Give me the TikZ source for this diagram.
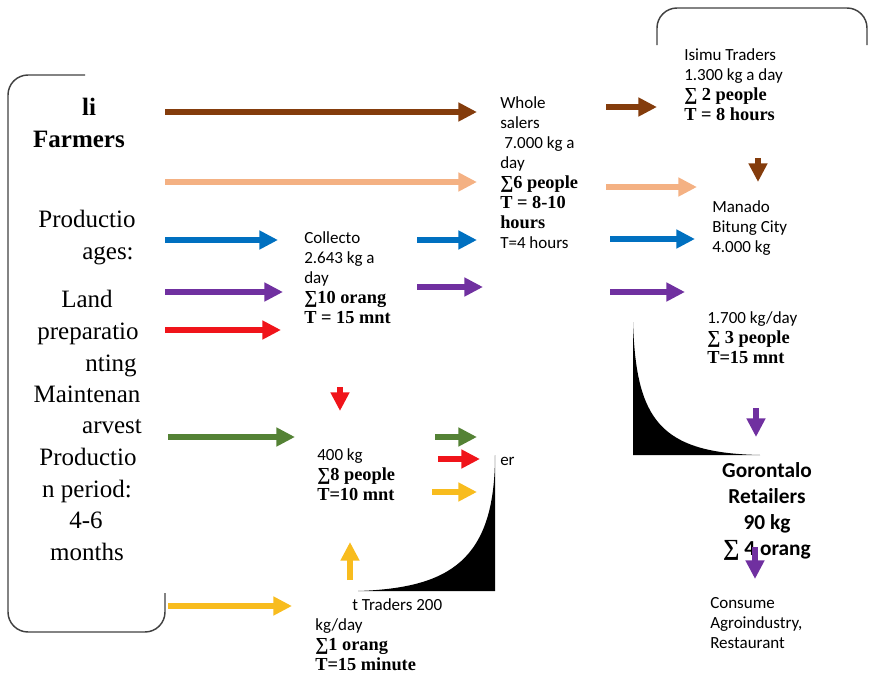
\documentclass[tikz,border=0pt]{standalone}
\usepackage{fontspec}
\setmainfont{Liberation Serif}
\newfontfamily\calibri{Carlito}
\newfontfamily\cambria[Scale=1.08]{Liberation Serif}
\usetikzlibrary{arrows.meta}

\definecolor{flowbrown}{HTML}{843C0C}
\definecolor{flowpeach}{HTML}{F4B183}
\definecolor{flowblue}{HTML}{0070C0}
\definecolor{flowpurple}{HTML}{7030A0}
\definecolor{flowred}{HTML}{F0141A}
\definecolor{flowgreen}{HTML}{548235}
\definecolor{flowyellow}{HTML}{F8BC1E}

\tikzset{
  flow/.style={line width=4.5pt, -{Triangle[length=14pt,width=13.5pt]}},
  boxline/.style={draw=black!75, line width=1.1pt, rounded corners=15pt},
  info/.style={font=\calibri\fontsize{12.75}{15}\selectfont, align=left, anchor=base west, inner sep=0pt},
  stage/.style={font=\fontsize{18.75}{23}\selectfont, anchor=base, inner sep=0pt},
}
\newcommand{\sumline}[1]{{\cambria\bfseries #1}}

\begin{document}
\begin{tikzpicture}[x=0.75pt, y=-0.75pt]
    \useasboundingbox (0,0) rectangle (869,675);

    % Frames
    \draw[boxline] (85,75) -- (8,75) -- (8,632) -- (165,632) -- (165,593);
    \draw[boxline] (657,45) -- (657,8) -- (867,8) -- (867,45);

    % Black corner shapes
    \fill (358,591) .. controls (450,588) and (495,560) .. (495,455) -- (495,591) -- cycle;
    \fill (633,322) .. controls (636,420) and (660,453) .. (760,455) -- (633,455) -- cycle;

    % Farmers column
    \node[stage, font=\bfseries\fontsize{18.75}{23}\selectfont] (chili) at (89,115) {li};
    \node[stage, font=\bfseries\fontsize{18.75}{23}\selectfont] (farmers) at (79,147) {Farmers};
    \foreach \cx/\by/\txt [count=\i] in {87/227/Productio, 108/259/ages:, 87/307/Land,
        88/339/preparatio, 111/371/nting, 87/402/Maintenan, 112/433/arvest,
        88/465/Productio, 87/497/n period:, 86/528/4-6, 87/560/months}
        \node[stage] (stage\i) at (\cx,\by) {\txt};

    % Actors (placed at the baseline of their last line)
    \node[info] (collector) at (304,323) {Collecto\\2.643 kg a\\day\\\sumline{∑10 orang}\\\sumline{T = 15 mnt}};
    \node[info] (village) at (317,500) {400 kg\\\sumline{∑8 people}\\\sumline{T=10 mnt}};
    \node[info] (retailend) at (500,465) {er};
    \node[info] (trader) at (352,610) {t Traders 200};
    \node[info] (traderinfo) at (315,670) {kg/day\\\sumline{∑1 orang}\\\sumline{T=15 minute}};
    \node[info] (whole) at (500,248) {Whole\\salers\\\hspace{3pt}7.000 kg a\\day\\\sumline{∑6 people}\\\sumline{T = 8-10}\\\sumline{hours}\\T=4 hours};
    \node[info] (isimu) at (684,120) {Isimu Traders\\1.300 kg a day\\\sumline{∑ 2 people}\\\sumline{T = 8 hours}};
    \node[info] (manado) at (712,252) {Manado\\Bitung City\\4.000 kg};
    \node[info] (local) at (707,363) {1.700 kg/day\\\sumline{∑ 3 people}\\\sumline{T=15 mnt}};
    \node[anchor=base, align=center, inner sep=0pt, font=\calibri\bfseries\fontsize{16}{19.5}\selectfont]
        (retailer) at (767,555) {Gorontalo\\Retailers\\90 kg\\{\cambria ∑} 4 orang};
    \node[info] (consumer) at (710,648) {Consume\\Agroindustry,\\Restaurant};

    % Arrow ends
    \coordinate (brA) at (165,112); \coordinate (brB) at (477,112);
    \coordinate (brC) at (606,107); \coordinate (brD) at (657,107);
    \coordinate (brE) at (758,158); \coordinate (brF) at (758,182);
    \coordinate (peA) at (165,182); \coordinate (peB) at (477,182);
    \coordinate (peC) at (606,187); \coordinate (peD) at (697,187);
    \coordinate (blA) at (165,240); \coordinate (blB) at (278,240);
    \coordinate (blC) at (417,240); \coordinate (blD) at (477,240);
    \coordinate (blE) at (610,239); \coordinate (blF) at (695,239);
    \coordinate (puA) at (165,292); \coordinate (puB) at (283,292);
    \coordinate (puC) at (417,287); \coordinate (puD) at (483,287);
    \coordinate (puE) at (610,292); \coordinate (puF) at (685,292);
    \coordinate (puG) at (756,408); \coordinate (puH) at (756,437);
    \coordinate (puI) at (755,547); \coordinate (puJ) at (755,579);
    \coordinate (reA) at (165,330); \coordinate (reB) at (281,330);
    \coordinate (reC) at (340,387); \coordinate (reD) at (340,411);
    \coordinate (reE) at (438,459); \coordinate (reF) at (480,459);
    \coordinate (grA) at (168,437); \coordinate (grB) at (295,437);
    \coordinate (grC) at (435,437); \coordinate (grD) at (477,437);
    \coordinate (yeA) at (168,606); \coordinate (yeB) at (292,606);
    \coordinate (yeC) at (350,580); \coordinate (yeD) at (350,542);
    \coordinate (yeE) at (432,492); \coordinate (yeF) at (477,492);

    % Flows
    \draw[flow, flowbrown] (brA) -- (brB);
    \draw[flow, flowbrown] (brC) -- (brD);
    \draw[flow, flowbrown] (brE) -- (brF);
    \draw[flow, flowpeach] (peA) -- (peB);
    \draw[flow, flowpeach] (peC) -- (peD);
    \draw[flow, flowblue] (blA) -- (blB);
    \draw[flow, flowblue] (blC) -- (blD);
    \draw[flow, flowblue] (blE) -- (blF);
    \draw[flow, flowpurple] (puA) -- (puB);
    \draw[flow, flowpurple] (puC) -- (puD);
    \draw[flow, flowpurple] (puE) -- (puF);
    \draw[flow, flowpurple] (puG) -- (puH);
    \draw[flow, flowpurple] (puI) -- (puJ);
    \draw[flow, flowred] (reA) -- (reB);
    \draw[flow, flowred] (reC) -- (reD);
    \draw[flow, flowred] (reE) -- (reF);
    \draw[flow, flowgreen] (grA) -- (grB);
    \draw[flow, flowgreen] (grC) -- (grD);
    \draw[flow, flowyellow] (yeA) -- (yeB);
    \draw[flow, flowyellow] (yeC) -- (yeD);
    \draw[flow, flowyellow] (yeE) -- (yeF);
\end{tikzpicture}
\end{document}
